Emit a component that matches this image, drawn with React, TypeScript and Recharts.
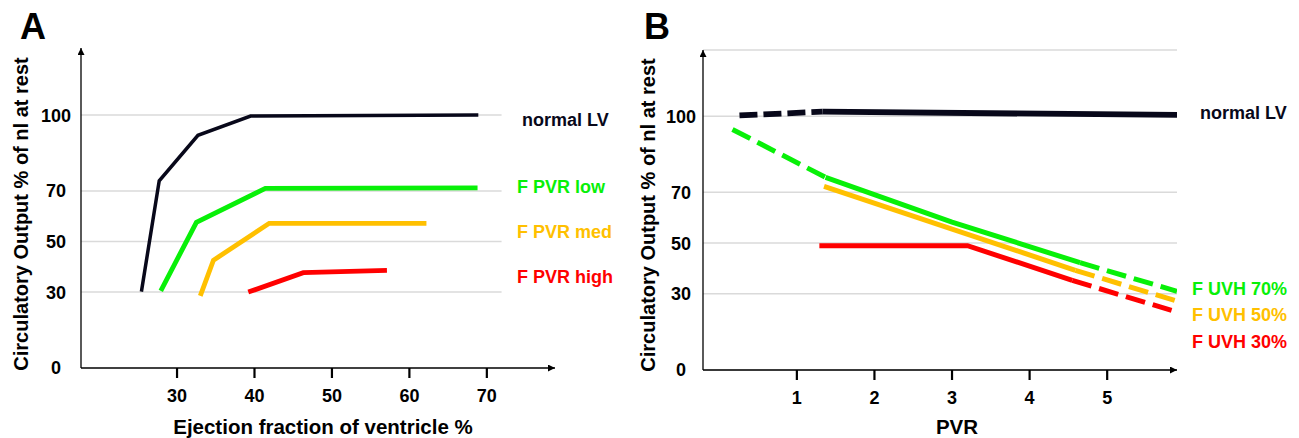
import { LineChart, Line, XAxis, YAxis, CartesianGrid, ReferenceLine } from "recharts";

type Pt = { x: number; y: number };

const BLACK = "#08081a";
const GREEN = "#08f008";
const ORANGE = "#ffc000";
const RED = "#ff0000";
const GRID = "#dadada";
const FONT = '"Liberation Sans", Arial, Helvetica, sans-serif';

// ---- panel A: circulatory output vs ejection fraction
const efTicks = [30, 40, 50, 60, 70];
const outputTicks = [0, 30, 50, 70, 100];
const gridValuesA = [30, 50, 70, 100];

const efNormal: Pt[] = [
  { x: 25.4, y: 30.2 },
  { x: 27.7, y: 74 },
  { x: 32.7, y: 92 },
  { x: 39.5, y: 99.6 },
  { x: 68.9, y: 100 },
];
const efPvrLow: Pt[] = [
  { x: 27.9, y: 30.5 },
  { x: 32.5, y: 57.6 },
  { x: 41.4, y: 71 },
  { x: 68.8, y: 71.2 },
];
const efPvrMed: Pt[] = [
  { x: 33.0, y: 28.5 },
  { x: 34.7, y: 42.6 },
  { x: 41.9, y: 57.2 },
  { x: 62.2, y: 57.2 },
];
const efPvrHigh: Pt[] = [
  { x: 39.2, y: 30 },
  { x: 46.3, y: 37.7 },
  { x: 57.1, y: 38.6 },
];

// ---- panel B: circulatory output vs PVR
const pvrTicks = [1, 2, 3, 4, 5];

const pvrNormalDash: Pt[] = [
  { x: 0.26, y: 100.3 },
  { x: 1.33, y: 101.8 },
];
const pvrNormal: Pt[] = [
  { x: 1.33, y: 101.8 },
  { x: 5.9, y: 100.5 },
];
const uvh70DashA: Pt[] = [
  { x: 0.17, y: 94.8 },
  { x: 1.37, y: 75.9 },
];
const uvh70: Pt[] = [
  { x: 1.37, y: 75.9 },
  { x: 3, y: 58.3 },
  { x: 4.65, y: 42.3 },
];
const uvh70DashB: Pt[] = [
  { x: 4.65, y: 42.3 },
  { x: 5.9, y: 31 },
];
const uvh50: Pt[] = [
  { x: 1.35, y: 72.4 },
  { x: 4.59, y: 39.3 },
];
const uvh50Dash: Pt[] = [
  { x: 4.59, y: 39.3 },
  { x: 5.87, y: 27.4 },
];
const uvh30: Pt[] = [
  { x: 1.29, y: 49 },
  { x: 3.2, y: 49 },
  { x: 4.55, y: 35.3 },
];
const uvh30Dash: Pt[] = [
  { x: 4.55, y: 35.3 },
  { x: 5.83, y: 23.5 },
];

const TICK_TEXT = { fill: "#000", fontSize: 18, fontWeight: 700, fontFamily: FONT };
const AXIS_LINE = { stroke: "#000", strokeWidth: 1.3 };

const YTick = ({ x, y, payload }: any) => (
  <text x={x} y={y} dy="0.36em" textAnchor="middle" {...TICK_TEXT}>
    {payload.value}
  </text>
);

const seg = (data: Pt[], color: string, width: number, dash?: string) => (
  <Line
    data={data}
    dataKey="y"
    type="linear"
    stroke={color}
    strokeWidth={width}
    strokeDasharray={dash}
    dot={false}
    activeDot={false}
    isAnimationActive={false}
  />
);

function PanelA() {
  return (
    <LineChart width={640} height={438} margin={{ top: 48, right: 85, bottom: 30, left: 21 }}>
      {gridValuesA.map((v) => (
        <ReferenceLine
          key={v}
          segment={[
            { x: 17.6, y: v },
            { x: 71.9, y: v },
          ]}
          stroke={GRID}
          strokeWidth={1.5}
        />
      ))}
      <XAxis
        dataKey="x"
        type="number"
        domain={[17.6, 78.8]}
        ticks={efTicks}
        allowDataOverflow
        height={40}
        tickSize={10}
        tickMargin={11}
        tick={TICK_TEXT}
        tickLine={{ stroke: "#000", strokeWidth: 2.2 }}
        axisLine={{ ...AXIS_LINE, markerEnd: "url(#axArrow)" }}
      />
      <YAxis
        type="number"
        domain={[0, 126.5]}
        ticks={outputTicks}
        allowDataOverflow
        width={60}
        tickSize={0}
        tickMargin={25}
        tickLine={false}
        tick={<YTick />}
        axisLine={{ ...AXIS_LINE, markerStart: "url(#axArrow)" }}
      />
      {seg(efNormal, BLACK, 3.5)}
      {seg(efPvrLow, GREEN, 4.8)}
      {seg(efPvrMed, ORANGE, 4.8)}
      {seg(efPvrHigh, RED, 4.8)}
    </LineChart>
  );
}

function PanelB() {
  return (
    <LineChart width={659} height={438} margin={{ top: 50, right: 122, bottom: 28, left: 3 }}>
      <CartesianGrid vertical={false} stroke={GRID} strokeWidth={1.5} />
      <XAxis
        dataKey="x"
        type="number"
        domain={[-0.21, 5.9]}
        ticks={pvrTicks}
        allowDataOverflow
        height={40}
        tickSize={10}
        tickMargin={11}
        tick={TICK_TEXT}
        tickLine={{ stroke: "#000", strokeWidth: 2.2 }}
        axisLine={{ ...AXIS_LINE, markerEnd: "url(#axArrow)" }}
      />
      <YAxis
        type="number"
        domain={[0, 126.1]}
        ticks={outputTicks}
        allowDataOverflow
        width={60}
        tickSize={0}
        tickMargin={22}
        tickLine={false}
        tick={<YTick />}
        axisLine={{ ...AXIS_LINE, markerStart: "url(#axArrow)" }}
      />
      {seg(pvrNormalDash, BLACK, 5.8, "18 6")}
      {seg(pvrNormal, BLACK, 5.8)}
      {seg(uvh70DashA, GREEN, 5, "20 8")}
      {seg(uvh70, GREEN, 5)}
      {seg(uvh70DashB, GREEN, 5, "20 8")}
      {seg(uvh50, ORANGE, 5)}
      {seg(uvh50Dash, ORANGE, 5, "20 8")}
      {seg(uvh30, RED, 5)}
      {seg(uvh30Dash, RED, 5, "20 8")}
    </LineChart>
  );
}

const seriesLabels = [
  { text: "normal LV", color: BLACK, x: 522, y: 126 },
  { text: "F PVR low", color: GREEN, x: 517, y: 193 },
  { text: "F PVR med", color: ORANGE, x: 517, y: 238 },
  { text: "F PVR high", color: RED, x: 517, y: 283 },
  { text: "normal LV", color: BLACK, x: 1200, y: 119 },
  { text: "F UVH 70%", color: GREEN, x: 1192, y: 295 },
  { text: "F UVH 50%", color: ORANGE, x: 1192, y: 321 },
  { text: "F UVH 30%", color: RED, x: 1192, y: 348 },
];

export default function App() {
  return (
    <div
      style={{
        position: "absolute",
        left: 0,
        top: 0,
        width: 1299,
        height: 438,
        background: "#fff",
        fontFamily: FONT,
        overflow: "hidden",
      }}
    >
      <svg width={0} height={0} style={{ position: "absolute" }}>
        <defs>
          <marker
            id="axArrow"
            viewBox="0 0 10 10"
            refX={10}
            refY={5}
            markerWidth={7}
            markerHeight={7}
            markerUnits="userSpaceOnUse"
            orient="auto-start-reverse"
          >
            <path d="M0,0 L10,5 L0,10 z" fill="#000" />
          </marker>
        </defs>
      </svg>
      <div style={{ position: "absolute", left: 0, top: 0 }}>
        <PanelA />
      </div>
      <div style={{ position: "absolute", left: 640, top: 0 }}>
        <PanelB />
      </div>
      <svg
        width={1299}
        height={438}
        style={{ position: "absolute", left: 0, top: 0, pointerEvents: "none" }}
        fontFamily={FONT}
        fontWeight={700}
      >
        <text x={20} y={39} fontSize={36}>A</text>
        <text x={644} y={39} fontSize={36}>B</text>
        <text transform="translate(28,214) rotate(-90)" textAnchor="middle" fontSize={20}>
          Circulatory Output % of nl at rest
        </text>
        <text transform="translate(655,215) rotate(-90)" textAnchor="middle" fontSize={20}>
          Circulatory Output % of nl at rest
        </text>
        <text x={323} y={434} textAnchor="middle" fontSize={20.5}>
          Ejection fraction of ventricle %
        </text>
        <text x={957} y={434} textAnchor="middle" fontSize={20.5}>
          PVR
        </text>
        {seriesLabels.map((l, i) => (
          <text key={i} x={l.x} y={l.y} fontSize={18} fill={l.color}>
            {l.text}
          </text>
        ))}
      </svg>
    </div>
  );
}
